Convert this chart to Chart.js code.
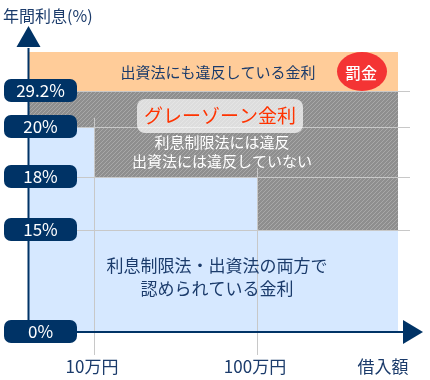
<!DOCTYPE html>
<html><head><meta charset="utf-8">
<script src="https://cdn.jsdelivr.net/npm/chart.js@4.4.1/dist/chart.umd.min.js"></script>
<style>html,body{margin:0;padding:0;background:#fff}</style>
</head><body>
<canvas id="c" width="430" height="380"></canvas>
<script>
// ---- data ----
const amountTicks = [10, 100];                 // 借入額（万円）
const amountLabels = ['10万円', '100万円'];
const xTitle = '借入額';
const rateTicks = [0, 15, 18, 20, 29.2];        // 年間利息（%）
const rateLabels = ['0%', '15%', '18%', '20%', '29.2%'];
const legalLimits = [20, 18, 15];               // 利息制限法の上限（〜10万, 10万〜100万, 100万〜）
const capitalLimit = 29.2;                      // 出資法の上限
const yTitle = '年間利息(%)';
const textBand = '出資法にも違反している金利';
const textFine = '罰金';
const textGray = 'グレーゾーン金利';
const textGrayNote = ['利息制限法には違反', '出資法には違反していない'];
const textLegal = ['利息制限法・出資法の両方で', '認められている金利'];

// ---- layout (schematic, non-proportional axes) ----
const rateLevels = [0, 102, 155, 205, 241];
const amountLevels = [0, 65, 228];
const regionEnd = 369, xMax = 381, bandTop = 280, yMax = 286;

function interp(v, ticks, levels) {
  for (let i = 1; i < ticks.length; i++) {
    if (v <= ticks[i]) {
      const t = (v - ticks[i-1]) / (ticks[i] - ticks[i-1]);
      return levels[i-1] + t * (levels[i] - levels[i-1]);
    }
  }
  return levels[levels.length-1];
}
const L = r => interp(r, rateTicks, rateLevels);
const X = a => interp(a, [0].concat(amountTicks), amountLevels);

const xs = [0].concat(amountTicks.map(X)).concat([regionEnd]);
const legalY = legalLimits.concat([legalLimits[legalLimits.length-1]]).map(L);

const NAVY = '#003366';
const TXT = '#1b3b6b';
const FONT = '"Noto Sans CJK JP", "Noto Sans", sans-serif';

function hatch() {
  const c = document.createElement('canvas'); c.width = 4; c.height = 4;
  const g = c.getContext('2d');
  g.fillStyle = '#8e8e8e'; g.fillRect(0, 0, 4, 4);
  g.strokeStyle = '#a8a8a8'; g.lineWidth = 1;
  g.beginPath();
  g.moveTo(0, 4); g.lineTo(4, 0);
  g.moveTo(-1, 1); g.lineTo(1, -1);
  g.moveTo(3, 5); g.lineTo(5, 3);
  g.stroke();
  return g.createPattern(c, 'repeat');
}

function rr(ctx, x, y, w, h, r) {
  ctx.beginPath();
  ctx.moveTo(x + r, y);
  ctx.arcTo(x + w, y, x + w, y + h, r);
  ctx.arcTo(x + w, y + h, x, y + h, r);
  ctx.arcTo(x, y + h, x, y, r);
  ctx.arcTo(x, y, x + w, y, r);
  ctx.closePath();
}

const deco = {
  id: 'deco',
  afterDatasetsDraw(chart) {
    const ctx = chart.ctx, ca = chart.chartArea;
    const sx = chart.scales.x, sy = chart.scales.y;
    const py = r => Math.round(sy.getPixelForValue(L(r)));
    ctx.save();
    // horizontal grid lines
    ctx.strokeStyle = '#c8c8c8'; ctx.lineWidth = 1;
    rateTicks.slice(1).forEach(r => {
      const y = py(r) + 0.5;
      ctx.beginPath(); ctx.moveTo(ca.left, y); ctx.lineTo(ca.right, y); ctx.stroke();
    });
    // vertical grid lines
    amountTicks.forEach((a, i) => {
      const x = Math.round(sx.getPixelForValue(X(a))) + 0.5;
      ctx.beginPath(); ctx.moveTo(x, py(legalLimits[i]) - 9); ctx.lineTo(x, ca.bottom + 23); ctx.stroke();
    });
    // band text
    const bandMid = (sy.getPixelForValue(bandTop) + sy.getPixelForValue(L(capitalLimit))) / 2;
    ctx.textAlign = 'center'; ctx.textBaseline = 'middle';
    ctx.fillStyle = TXT; ctx.font = '15px ' + FONT;
    ctx.fillText(textBand, 218, bandMid + 1);
    // fine ellipse
    ctx.fillStyle = '#f43434';
    ctx.beginPath(); ctx.ellipse(362, bandMid, 25, 19.5, 0, 0, Math.PI * 2); ctx.fill();
    ctx.fillStyle = '#fff'; ctx.font = '500 16px ' + FONT;
    ctx.fillText(textFine, 361, bandMid + 1);
    // gray zone box
    ctx.fillStyle = 'rgba(255,255,255,0.7)';
    rr(ctx, 137, 99, 166, 34, 8); ctx.fill();
    ctx.fillStyle = '#ff3300'; ctx.font = '19px ' + FONT;
    ctx.fillText(textGray, 220, 116);
    ctx.fillStyle = '#ffffff'; ctx.font = '15px ' + FONT;
    ctx.fillText(textGrayNote[0], 222, 142);
    ctx.fillText(textGrayNote[1], 222, 161);
    // legal text
    ctx.fillStyle = TXT; ctx.font = '17px ' + FONT;
    ctx.fillText(textLegal[0], 217, 266);
    ctx.fillText(textLegal[1], 217, 289);
    // axes
    ctx.strokeStyle = NAVY; ctx.fillStyle = NAVY; ctx.lineWidth = 2;
    const ax = ca.left - 0.5;
    ctx.beginPath(); ctx.moveTo(ax, ca.bottom + 11); ctx.lineTo(ax, ca.top + 2); ctx.stroke();
    ctx.beginPath(); ctx.moveTo(ax - 12, ca.top + 1); ctx.lineTo(ax + 12, ca.top + 1); ctx.lineTo(ax, ca.top - 20); ctx.closePath(); ctx.fill();
    const ay = ca.bottom;
    ctx.beginPath(); ctx.moveTo(ax, ay); ctx.lineTo(ca.right - 6, ay); ctx.stroke();
    ctx.beginPath(); ctx.moveTo(ca.right - 7, ay - 12); ctx.lineTo(ca.right - 7, ay + 12); ctx.lineTo(ca.right + 13, ay); ctx.closePath(); ctx.fill();
    // pills
    ctx.font = '17px ' + FONT;
    rateTicks.forEach((r, i) => {
      const y = sy.getPixelForValue(L(r));
      ctx.fillStyle = NAVY;
      rr(ctx, 4, y - 12, 73, 23, 7); ctx.fill();
      ctx.fillStyle = '#fff';
      ctx.fillText(rateLabels[i], 40.5, y);
    });
    // x labels
    ctx.fillStyle = TXT; ctx.font = '17px ' + FONT;
    amountTicks.forEach((a, i) => {
      ctx.fillText(amountLabels[i], sx.getPixelForValue(X(a)) - 2, ca.bottom + 35);
    });
    ctx.fillText(xTitle, 383, ca.bottom + 35);
    ctx.textAlign = 'left'; ctx.font = '16px ' + FONT;
    ctx.fillText(yTitle, 3, 16);
    ctx.restore();
  }
};

const ctx = document.getElementById('c').getContext('2d');
const pts = ys => xs.map((x, i) => ({ x, y: ys[i] }));
new Chart(ctx, {
  type: 'line',
  data: {
    datasets: [
      { label: '利息制限法・出資法の両方で認められている金利', data: pts(legalY), stepped: true, fill: 'origin',
        backgroundColor: '#d6e8ff', borderWidth: 0, pointRadius: 0 },
      { label: 'グレーゾーン金利', data: pts(xs.map(() => L(capitalLimit))), stepped: true, fill: '-1',
        backgroundColor: hatch(), borderWidth: 0, pointRadius: 0 },
      { label: '出資法にも違反している金利', data: pts(xs.map(() => bandTop)), stepped: true, fill: '-1',
        backgroundColor: '#ffcc99', borderWidth: 0, pointRadius: 0 }
    ]
  },
  options: {
    responsive: false, animation: false, devicePixelRatio: 1,
    layout: { padding: { left: 29, right: 20, top: 46, bottom: 48 } },
    plugins: { legend: { display: false }, tooltip: { enabled: false } },
    scales: {
      x: { type: 'linear', min: 0, max: xMax, display: false },
      y: { type: 'linear', min: 0, max: yMax, display: false }
    }
  },
  plugins: [deco]
});
</script>
</body></html>
